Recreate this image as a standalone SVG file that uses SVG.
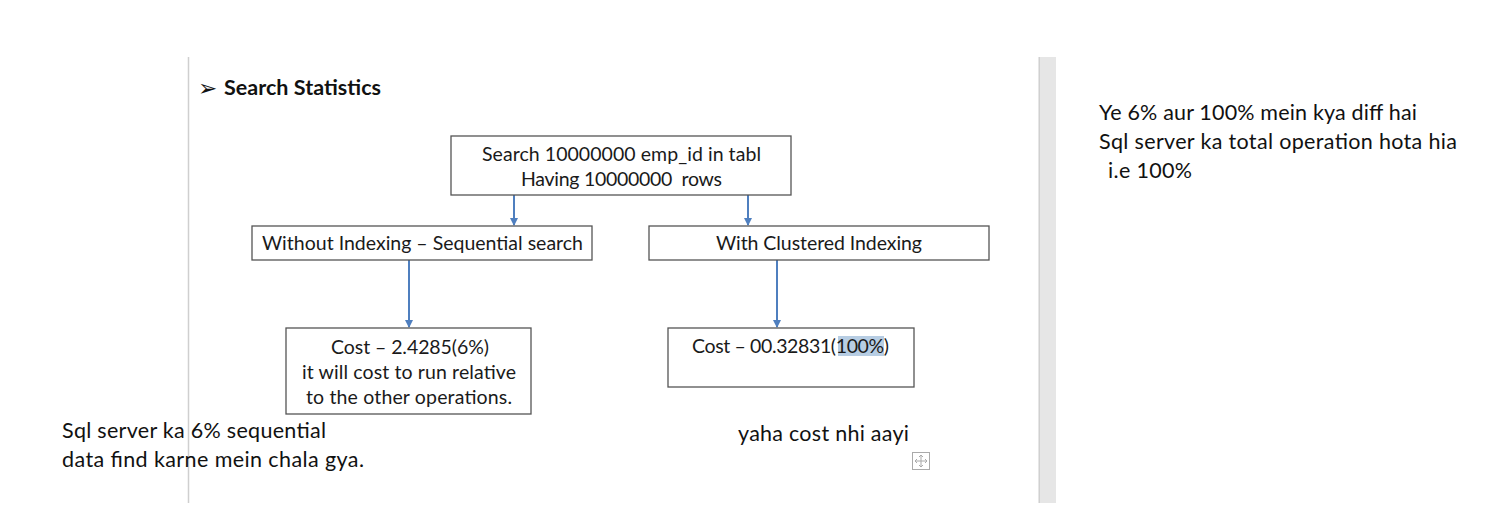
<svg xmlns="http://www.w3.org/2000/svg" width="1487" height="523" viewBox="0 0 1487 523">
<style>
.t{font-family:Lato,"Open Sans","Liberation Sans",sans-serif;font-size:19.5px;fill:#1a1a1a}
.n{font-family:Lato,"Open Sans","Liberation Sans",sans-serif;font-size:21.5px;fill:#111}
.box{fill:#fff;stroke:#555;stroke-width:1.3}
.c{stroke:#4f7fbf;stroke-width:2;fill:none;marker-end:url(#ah)}
</style>
<defs>
<marker id="ah" markerWidth="8" markerHeight="8" refX="7" refY="4" orient="auto" markerUnits="userSpaceOnUse">
<path d="M0,0 L8,4 L0,8 Z" fill="#4f7fbf"/>
</marker>
</defs>
<rect width="1487" height="523" fill="#fff"/>
<g id="page">
<line x1="188.5" y1="57" x2="188.5" y2="503" stroke="#cfcfcf" stroke-width="1.5"/>
<rect x="1038" y="57" width="18" height="446" fill="#e6e6e6"/>
<line x1="1039.5" y1="57" x2="1039.5" y2="503" stroke="#d0d0d0" stroke-width="1"/>
</g>
<g id="title">
<text x="198" y="96" font-family="'DejaVu Sans',sans-serif" font-size="23" fill="#111">➢</text>
<text x="224" y="95" font-family="Lato,'Open Sans','Liberation Sans',sans-serif" font-size="21.5" font-weight="bold" fill="#111" textLength="157">Search Statistics</text>
</g>
<g id="connectors">
<line class="c" x1="514" y1="195" x2="514" y2="225"/>
<line class="c" x1="748" y1="195" x2="748" y2="225"/>
<line class="c" x1="409" y1="260" x2="409" y2="327"/>
<line class="c" x1="777" y1="260" x2="777" y2="327"/>
</g>
<g id="node-top">
<rect class="box" x="451" y="136" width="340" height="59"/>
<text class="t" x="482" y="161" textLength="279">Search 10000000 emp_id in tabl</text>
<text class="t" x="521" y="186" textLength="201" xml:space="preserve">Having 10000000  rows</text>
</g>
<g id="node-without">
<rect class="box" x="252" y="226" width="340" height="34"/>
<text class="t" x="262" y="250" textLength="321">Without Indexing – Sequential search</text>
</g>
<g id="node-with">
<rect class="box" x="649" y="226" width="340" height="34"/>
<text class="t" x="716" y="250" textLength="206">With Clustered Indexing</text>
</g>
<g id="node-cost1">
<rect class="box" x="286" y="328" width="245" height="86"/>
<text class="t" x="331" y="354" textLength="158">Cost – 2.4285(6%)</text>
<text class="t" x="302" y="379" textLength="214">it will cost to run relative</text>
<text class="t" x="306" y="404" textLength="206">to the other operations.</text>
</g>
<g id="node-cost2">
<rect class="box" x="668" y="328" width="246" height="59"/>
<rect x="838" y="336" width="46" height="20" fill="#b7cde3"/>
<text class="t" x="692" y="353" textLength="197">Cost – 00.32831(100%)</text>
</g>
<g id="notes">
<text class="n" x="1099" y="120" textLength="318">Ye 6% aur 100% mein kya diff hai</text>
<text class="n" x="1099" y="149" textLength="358">Sql server ka total operation hota hia</text>
<text class="n" x="1108" y="178" textLength="84">i.e 100%</text>
<text class="n" x="62" y="438" textLength="264">Sql server ka 6% sequential</text>
<text class="n" x="62" y="467" textLength="302">data find karne mein chala gya.</text>
<text class="n" x="738" y="441" textLength="171">yaha cost nhi aayi</text>
</g>
<g id="move-icon" stroke="#aaa" fill="none" stroke-width="1">
<rect x="912.5" y="452.5" width="17" height="17"/>
<path d="M921 455 V467 M915 461 H927"/>
<path d="M919 457 L921 455 L923 457 M919 465 L921 467 L923 465 M917 459 L915 461 L917 463 M925 459 L927 461 L925 463"/>
</g>
</svg>
